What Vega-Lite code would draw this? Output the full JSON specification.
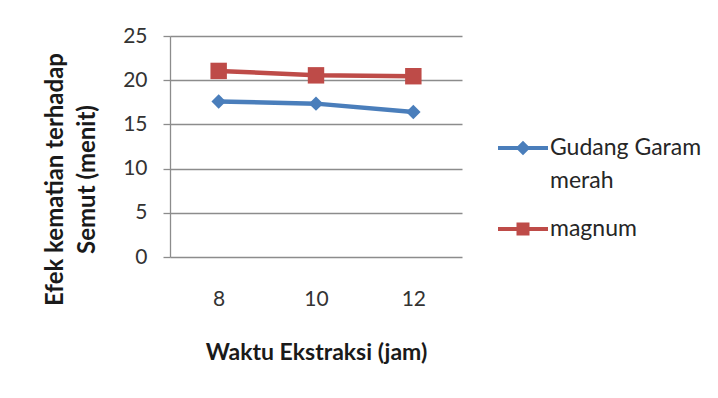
{
  "$schema": "https://vega.github.io/schema/vega-lite/v6.json",
  "width": 292,
  "height": 221,
  "autosize": {"type": "none"},
  "padding": {"left": 170, "top": 36, "right": 256, "bottom": 141},
  "background": "white",
  "config": {
    "font": "Lato",
    "view": {"stroke": null},
    "axis": {"labelFont": "Lato", "titleFont": "Lato", "labelColor": "#333333", "titleColor": "#1a1a1a"},
    "legend": {"labelFont": "Lato"}
  },
  "data": {
    "values": [
      {"jam": 8, "series": "Gudang Garam merah", "menit": 17.6},
      {"jam": 10, "series": "Gudang Garam merah", "menit": 17.35},
      {"jam": 12, "series": "Gudang Garam merah", "menit": 16.4},
      {"jam": 8, "series": "magnum", "menit": 21.05},
      {"jam": 10, "series": "magnum", "menit": 20.55},
      {"jam": 12, "series": "magnum", "menit": 20.45}
    ]
  },
  "encoding": {
    "x": {
      "field": "jam", "type": "ordinal", "sort": [8, 10, 12],
      "scale": {"type": "point", "padding": 0.5},
      "axis": {
        "title": "Waktu Ekstraksi (jam)", "labelAngle": 0, "ticks": false, "domain": false,
        "labelFontSize": 21, "labelPadding": 31,
        "titleFontSize": 23, "titleFontWeight": "bold", "titleBaseline": "top", "titleY": 84
      }
    },
    "y": {
      "field": "menit", "type": "quantitative",
      "scale": {"domain": [0, 25]},
      "axis": {
        "title": ["Efek kematian terhadap", "Semut (menit)"],
        "values": [0, 5, 10, 15, 20, 25],
        "grid": true, "gridColor": "#8c8c8c", "gridWidth": 1.3,
        "domainColor": "#8c8c8c", "domainWidth": 1.3,
        "tickColor": "#8c8c8c", "tickSize": 7, "tickWidth": 1.3,
        "labelFontSize": 21, "labelPadding": 16,
        "titleFontSize": 24, "titleFontWeight": "bold", "titleBaseline": "middle",
        "titleX": -115, "titleY": 143, "titleLineHeight": 32
      }
    },
    "color": {
      "field": "series", "type": "nominal",
      "scale": {"domain": ["Gudang Garam merah", "magnum"], "range": ["#4a7ebb", "#be4b48"]},
      "legend": {
        "title": null, "orient": "none", "legendX": 328, "legendY": 87,
        "symbolSize": 2500, "labelFontSize": 23, "labelOffset": 2, "labelColor": "#262626",
        "labelBaseline": "middle", "rowPadding": 11,
        "labelExpr": "datum.label == 'Gudang Garam merah' ? ['Gudang Garam', 'merah'] : datum.label",
        "encode": {
          "labels": {
            "update": {
              "lineHeight": {"value": 33}
            }
          },
          "symbols": {
            "update": {
              "shape": {"signal": "datum.value == 'magnum' ? 'M-1,-0.08H1V0.08H-1Z M-0.26,-0.26H0.26V0.26H-0.26Z' : 'M-1,-0.08H1V0.08H-1Z M0,-0.29L0.29,0L0,0.29L-0.29,0Z'"},
              "fill": {"signal": "datum.value == 'magnum' ? '#be4b48' : '#4a7ebb'"},
              "fillOpacity": {"value": 1},
              "opacity": {"value": 1},
              "strokeWidth": {"value": 0}
            }
          }
        }
      }
    }
  },
  "layer": [
    {"mark": {"type": "line", "strokeWidth": 4.5}},
    {
      "mark": {"type": "point", "filled": true, "opacity": 1, "size": 210, "shape": "diamond"},
      "transform": [{"filter": "datum.series == 'Gudang Garam merah'"}]
    },
    {
      "mark": {"type": "point", "filled": true, "opacity": 1, "size": 270, "shape": "square"},
      "transform": [{"filter": "datum.series == 'magnum'"}]
    }
  ]
}
